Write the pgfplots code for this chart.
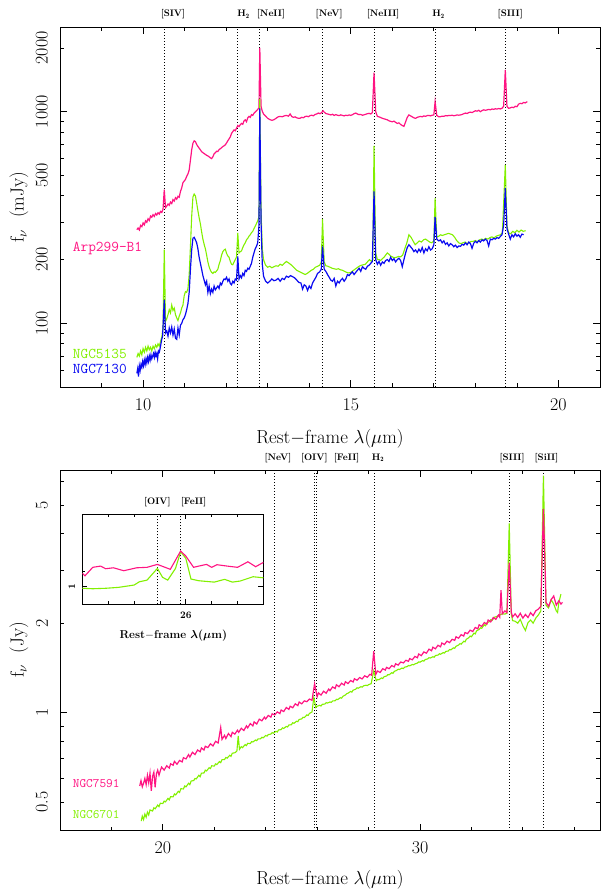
\documentclass[border=0pt]{standalone}
\usepackage{fix-cm}
\usepackage{amsmath}
\usepackage{fontspec}
\usepackage{pgfplots}
\pgfplotsset{compat=1.18}
\definecolor{cpink}{RGB}{255,20,130}
\definecolor{cgreen}{RGB}{130,240,0}
\definecolor{cblue}{RGB}{10,10,240}
\newcommand\tickfont{\fontsize{18}{20}\selectfont}
\newcommand\labfont{\fontsize{19}{22}\selectfont}
\newcommand\linefont{\fontsize{9.5}{11}\selectfont\bfseries}
\tikzset{
  vline/.style={black, line width=0.8bp, dash pattern=on 1bp off 2bp},
  lbl/.style={anchor=base, yshift=10bp, font=\linefont},
}
\pgfplotsset{
  mainax/.style={
    scale only axis, clip mode=individual,
    axis line style={line width=0.9bp},
    every tick/.style={black, line width=0.8bp},
    major tick length=7bp, minor tick length=4bp,
    tick align=inside, tick pos=both,
    xticklabel style={font=\tickfont, inner xsep=0pt, inner ysep=11bp},
    yticklabel style={font=\tickfont, rotate=90, anchor=south, inner xsep=0pt, inner ysep=12bp},
    extra y tick style={major tick length=4bp},
  },
}
\begin{document}
\begin{tikzpicture}
\path[use as bounding box] (0,0) rectangle (601bp,-894bp);
% ================= TOP PANEL =================
\begin{axis}[mainax, at={(60bp,-27bp)}, anchor=north west, width=540bp, height=360bp,
  xmin=8, xmax=21, ymode=log, ymin=50, ymax=2512,
  xtick={10,15,20}, xticklabels={10,15,20},
  minor xtick={9,11,12,13,14,16,17,18,19},
  ytick={100,1000}, yticklabels={100,1000},
  minor ytick={60,70,80,90,300,400,600,700,800,900},
  extra y ticks={200,500,2000}, extra y tick labels={200,500,2000}]
\addplot[vline] coordinates {(10.51,50) (10.51,2512)};
\addplot[vline] coordinates {(12.28,50) (12.28,2512)};
\addplot[vline] coordinates {(12.81,50) (12.81,2512)};
\addplot[vline] coordinates {(14.32,50) (14.32,2512)};
\addplot[vline] coordinates {(15.56,50) (15.56,2512)};
\addplot[vline] coordinates {(17.03,50) (17.03,2512)};
\addplot[vline] coordinates {(18.72,50) (18.72,2512)};
% Arp299-B1
\addplot[cpink, line width=1.2bp] coordinates {
(9.85,277) (9.88,282) (9.91,276) (9.94,290) (9.97,286) (10.00,298) (10.03,292) (10.06,305) (10.09,300) (10.12,312)
(10.15,306) (10.18,321) (10.21,317) (10.24,326) (10.27,320) (10.30,330) (10.33,325) (10.36,333) (10.39,328) (10.42,338)
(10.45,334) (10.48,345) (10.51,428) (10.54,352) (10.57,358) (10.60,366) (10.63,361) (10.66,374) (10.69,368) (10.72,384)
(10.75,378) (10.78,392) (10.81,386) (10.84,398) (10.87,394) (10.90,420) (10.93,436) (10.96,462) (10.99,470) (11.02,478)
(11.05,495) (11.08,508) (11.11,530) (11.14,590) (11.17,660) (11.20,709) (11.23,728) (11.26,722) (11.29,700) (11.32,685)
(11.35,672) (11.38,660) (11.41,647) (11.44,640) (11.47,634) (11.50,628) (11.53,622) (11.56,618) (11.59,612) (11.62,605)
(11.65,600) (11.68,612) (11.71,632) (11.74,640) (11.77,650) (11.80,648) (11.83,662) (11.86,668) (11.89,676) (11.92,684)
(11.95,690) (11.98,697) (12.01,712) (12.04,728) (12.07,744) (12.10,760) (12.13,790) (12.16,805) (12.19,820) (12.22,812)
(12.25,836) (12.28,860) (12.31,850) (12.34,868) (12.37,880) (12.40,872) (12.43,905) (12.46,915) (12.49,896) (12.52,935)
(12.55,950) (12.58,940) (12.61,968) (12.64,960) (12.67,983) (12.70,995) (12.73,1010) (12.76,1025) (12.79,1040) (12.81,2000)
(12.84,1060) (12.87,1005) (12.90,975) (12.95,952) (13.00,930) (13.05,918) (13.10,910) (13.15,916) (13.20,930) (13.25,945)
(13.30,950) (13.35,946) (13.40,955) (13.45,960) (13.50,952) (13.54,975) (13.58,948) (13.62,940) (13.66,945) (13.70,935)
(13.74,930) (13.78,931) (13.82,940) (13.86,936) (13.90,948) (13.94,952) (13.98,946) (14.02,958) (14.06,962) (14.10,956)
(14.14,970) (14.18,975) (14.22,985) (14.26,978) (14.30,990) (14.33,1010) (14.36,995) (14.40,980) (14.44,975) (14.48,970)
(14.52,965) (14.56,972) (14.60,960) (14.64,968) (14.68,962) (14.72,958) (14.76,966) (14.80,960) (14.84,955) (14.88,962)
(14.92,958) (14.96,965) (15.00,960) (15.04,968) (15.08,978) (15.12,985) (15.16,975) (15.20,968) (15.24,970) (15.28,962)
(15.32,966) (15.36,972) (15.40,978) (15.44,982) (15.48,975) (15.52,990) (15.56,1527) (15.60,1000) (15.64,950) (15.68,945)
(15.72,938) (15.76,930) (15.80,925) (15.84,920) (15.88,915) (15.92,905) (15.96,900) (16.00,895) (16.04,902) (16.08,890)
(16.12,880) (16.16,885) (16.20,870) (16.24,860) (16.28,852) (16.32,895) (16.36,940) (16.40,965) (16.44,955) (16.48,945)
(16.52,935) (16.56,930) (16.60,940) (16.64,945) (16.68,950) (16.72,945) (16.76,955) (16.80,950) (16.84,958) (16.88,960)
(16.92,955) (16.96,962) (17.00,965) (17.03,1115) (17.07,960) (17.12,945) (17.16,947) (17.20,952) (17.24,950) (17.28,958)
(17.32,955) (17.36,960) (17.40,958) (17.44,962) (17.48,956) (17.52,960) (17.56,965) (17.60,962) (17.64,965) (17.68,970)
(17.72,978) (17.76,985) (17.80,980) (17.84,990) (17.88,995) (17.92,990) (17.96,1000) (18.00,1010) (18.04,1005) (18.08,1015)
(18.12,1000) (18.16,1012) (18.20,1020) (18.24,1015) (18.28,1019) (18.32,1025) (18.36,1020) (18.40,1030) (18.44,1025) (18.48,1032)
(18.52,1028) (18.56,1035) (18.60,1030) (18.64,1037) (18.68,1060) (18.72,1574) (18.76,1060) (18.80,1037) (18.84,1042) (18.88,1050)
(18.92,1045) (18.96,1060) (19.00,1055) (19.04,1085) (19.08,1095) (19.12,1090) (19.16,1105) (19.20,1100) (19.25,1115)};
% NGC5135
\addplot[cgreen, line width=1.1bp] coordinates {
(9.85,69) (9.88,72) (9.91,70) (9.94,74) (9.97,71) (10.00,76) (10.03,73) (10.06,77) (10.09,74) (10.12,78)
(10.15,75) (10.18,77) (10.21,74) (10.24,78) (10.27,76) (10.30,79) (10.33,77) (10.36,80) (10.39,78) (10.42,82)
(10.45,86) (10.48,95) (10.51,223) (10.54,102) (10.57,105) (10.60,110) (10.63,116) (10.66,112) (10.69,122) (10.72,115)
(10.75,118) (10.78,110) (10.81,106) (10.84,103) (10.87,108) (10.90,112) (10.93,118) (10.96,122) (10.99,135) (11.02,141)
(11.05,140) (11.08,146) (11.11,170) (11.14,230) (11.17,320) (11.20,395) (11.23,408) (11.26,400) (11.29,370) (11.32,340)
(11.35,315) (11.38,295) (11.41,270) (11.44,250) (11.47,236) (11.50,225) (11.53,210) (11.56,195) (11.59,185) (11.62,178)
(11.65,174) (11.68,172) (11.71,175) (11.74,174) (11.77,177) (11.80,180) (11.83,190) (11.86,198) (11.89,210) (11.92,218)
(11.95,222) (11.98,224) (12.01,214) (12.04,208) (12.07,205) (12.10,196) (12.13,190) (12.16,189) (12.19,195) (12.22,200)
(12.25,206) (12.28,267) (12.31,215) (12.34,218) (12.37,220) (12.40,228) (12.43,235) (12.46,240) (12.49,248) (12.52,252)
(12.55,258) (12.58,262) (12.61,268) (12.64,272) (12.67,280) (12.70,288) (12.73,296) (12.76,305) (12.79,320) (12.81,1150)
(12.84,340) (12.87,225) (12.90,200) (12.95,188) (13.00,184) (13.05,186) (13.10,183) (13.15,185) (13.20,187) (13.25,186)
(13.30,190) (13.35,188) (13.40,192) (13.45,196) (13.50,193) (13.55,190) (13.60,186) (13.65,182) (13.70,178) (13.75,176)
(13.80,174) (13.85,172) (13.90,170) (13.95,172) (14.00,175) (14.05,178) (14.10,180) (14.15,184) (14.20,186) (14.25,188)
(14.29,195) (14.32,311) (14.36,195) (14.40,187) (14.45,186) (14.50,184) (14.55,182) (14.60,181) (14.65,180) (14.70,181)
(14.75,179) (14.80,178) (14.85,176) (14.90,174) (14.95,173) (15.00,174) (15.05,177) (15.10,180) (15.15,183) (15.20,186)
(15.25,188) (15.30,189) (15.35,190) (15.40,195) (15.45,200) (15.50,196) (15.53,200) (15.56,689) (15.60,215) (15.64,200)
(15.68,200) (15.72,198) (15.76,202) (15.80,205) (15.84,210) (15.88,215) (15.92,212) (15.96,208) (16.00,206) (16.05,204)
(16.10,205) (16.15,207) (16.20,206) (16.25,210) (16.30,225) (16.35,240) (16.40,262) (16.45,255) (16.50,245) (16.55,235)
(16.60,240) (16.65,245) (16.70,242) (16.75,248) (16.80,250) (16.85,246) (16.90,242) (16.95,240) (17.00,245) (17.03,390)
(17.07,255) (17.12,258) (17.16,262) (17.20,260) (17.25,262) (17.30,264) (17.35,266) (17.40,264) (17.45,262) (17.50,255)
(17.55,246) (17.60,240) (17.65,238) (17.70,240) (17.75,242) (17.80,238) (17.85,240) (17.90,244) (17.95,244) (18.00,246)
(18.05,243) (18.10,248) (18.15,250) (18.20,248) (18.25,252) (18.30,250) (18.35,254) (18.40,256) (18.45,253) (18.50,258)
(18.55,260) (18.60,262) (18.65,268) (18.72,561) (18.76,290) (18.80,267) (18.85,265) (18.90,272) (18.95,268) (19.00,275)
(19.05,270) (19.10,276) (19.15,272) (19.21,274)};
% NGC7130
\addplot[cblue, line width=1.2bp] coordinates {
(9.85,58) (9.87,61) (9.89,56) (9.91,63) (9.93,60) (9.95,64) (9.97,62) (9.99,66) (10.01,63) (10.03,67)
(10.05,64) (10.07,68) (10.09,65) (10.11,69) (10.13,66) (10.15,70) (10.17,67) (10.19,71) (10.21,68) (10.23,70)
(10.25,72) (10.27,69) (10.29,73) (10.31,70) (10.33,72) (10.35,68) (10.37,74) (10.39,73) (10.41,76) (10.43,80)
(10.45,84) (10.47,87) (10.51,129) (10.54,90) (10.57,92) (10.60,87) (10.63,95) (10.66,90) (10.69,96) (10.72,88)
(10.75,94) (10.78,85) (10.81,84) (10.84,95) (10.87,88) (10.90,98) (10.93,100) (10.96,104) (10.99,106) (11.02,110)
(11.05,116) (11.08,124) (11.11,140) (11.14,180) (11.17,222) (11.20,252) (11.23,255) (11.26,248) (11.29,240) (11.32,225)
(11.35,205) (11.38,192) (11.41,180) (11.44,168) (11.47,160) (11.50,152) (11.53,158) (11.56,140) (11.59,150) (11.62,138)
(11.65,145) (11.68,140) (11.71,150) (11.74,144) (11.77,147) (11.80,150) (11.83,146) (11.86,155) (11.89,152) (11.92,158)
(11.95,162) (11.98,161) (12.01,165) (12.04,158) (12.07,162) (12.10,154) (12.13,152) (12.16,158) (12.19,155) (12.22,162)
(12.25,160) (12.28,207) (12.31,162) (12.34,168) (12.37,164) (12.40,172) (12.43,168) (12.46,178) (12.49,176) (12.52,182)
(12.55,180) (12.58,186) (12.61,192) (12.64,205) (12.67,215) (12.70,225) (12.73,231) (12.76,240) (12.79,290) (12.81,1037)
(12.84,300) (12.87,190) (12.90,167) (12.95,158) (13.00,155) (13.05,158) (13.10,162) (13.15,159) (13.20,160) (13.25,163)
(13.30,158) (13.35,163) (13.40,161) (13.45,167) (13.50,165) (13.55,168) (13.60,166) (13.65,164) (13.70,160) (13.75,156)
(13.80,155) (13.84,145) (13.88,152) (13.92,150) (13.96,143) (14.00,150) (14.04,146) (14.08,155) (14.12,160) (14.16,165)
(14.20,172) (14.25,175) (14.29,180) (14.32,231) (14.36,180) (14.40,176) (14.44,170) (14.48,165) (14.52,160) (14.56,158)
(14.60,163) (14.64,150) (14.68,158) (14.72,155) (14.76,160) (14.80,163) (14.84,158) (14.88,162) (14.92,170) (14.96,168)
(15.00,172) (15.04,175) (15.08,170) (15.12,174) (15.16,178) (15.20,182) (15.24,176) (15.28,185) (15.32,182) (15.36,180)
(15.40,186) (15.44,188) (15.48,192) (15.52,196) (15.56,420) (15.60,200) (15.64,190) (15.68,196) (15.72,188) (15.76,195)
(15.80,192) (15.84,198) (15.88,200) (15.92,196) (15.96,205) (16.00,198) (16.04,202) (16.08,195) (16.12,200) (16.16,203)
(16.20,198) (16.24,185) (16.28,200) (16.32,215) (16.36,228) (16.40,235) (16.44,230) (16.48,225) (16.52,218) (16.56,222)
(16.60,216) (16.64,224) (16.68,218) (16.72,228) (16.76,215) (16.80,225) (16.84,220) (16.88,230) (16.92,222) (16.96,225)
(17.00,235) (17.03,318) (17.07,250) (17.12,245) (17.16,248) (17.20,240) (17.24,245) (17.28,236) (17.32,240) (17.36,232)
(17.40,238) (17.44,235) (17.48,230) (17.52,234) (17.56,228) (17.60,232) (17.64,231) (17.68,236) (17.72,234) (17.76,240)
(17.80,235) (17.84,242) (17.88,238) (17.92,226) (17.96,239) (18.00,244) (18.04,240) (18.08,246) (18.12,242) (18.16,248)
(18.20,245) (18.24,250) (18.28,246) (18.32,232) (18.36,250) (18.40,248) (18.44,252) (18.48,250) (18.52,254) (18.56,252)
(18.60,257) (18.64,262) (18.68,290) (18.72,435) (18.76,280) (18.80,264) (18.84,250) (18.88,262) (18.92,256) (18.96,265)
(19.00,258) (19.04,262) (19.08,255) (19.12,264) (19.16,262)};
\node[lbl] at (axis cs:10.72,2512) {[SIV]};
\node[lbl] at (axis cs:12.42,2512) {H$_\mathbf{2}$};
\node[lbl] at (axis cs:13.08,2512) {[NeII]};
\node[lbl] at (axis cs:14.48,2512) {[NeV]};
\node[lbl] at (axis cs:15.78,2512) {[NeIII]};
\node[lbl] at (axis cs:17.11,2512) {H$_\mathbf{2}$};
\node[lbl] at (axis cs:18.84,2512) {[SIII]};
\end{axis}
% ================= BOTTOM PANEL =================
\begin{axis}[mainax, at={(60bp,-470bp)}, anchor=north west, width=540bp, height=360.7bp,
  xmin=16, xmax=37, ymode=log, ymin=0.4, ymax=6.56,
  xtick={20,30}, xticklabels={20,30},
  minor xtick={18,22,24,26,28,32,34,36},
  ytick={1}, yticklabels={1},
  minor ytick={0.6,0.7,0.8,0.9,3,4,6},
  extra y ticks={0.5,2,5}, extra y tick labels={0.5,2,5}]
\addplot[vline] coordinates {(24.32,0.4) (24.32,6.56)};
\addplot[vline] coordinates {(25.89,0.4) (25.89,6.56)};
\addplot[vline] coordinates {(25.99,0.4) (25.99,6.56)};
\addplot[vline] coordinates {(28.22,0.4) (28.22,6.56)};
\addplot[vline] coordinates {(33.47,0.4) (33.47,6.56)};
\addplot[vline] coordinates {(34.80,0.4) (34.80,6.56)};
% NGC6701
\addplot[cgreen, line width=1.1bp] coordinates {
(19.16,0.431) (19.20,0.448) (19.25,0.436) (19.30,0.455) (19.35,0.444) (19.40,0.462) (19.45,0.452) (19.50,0.470) (19.60,0.466) (19.65,0.478)
(19.70,0.474) (19.80,0.488) (19.85,0.482) (19.90,0.495) (20.00,0.494) (20.05,0.503) (20.10,0.500) (20.20,0.514) (20.25,0.508) (20.30,0.521)
(20.40,0.520) (20.45,0.532) (20.50,0.528) (20.60,0.543) (20.65,0.538) (20.70,0.554) (20.80,0.553) (20.85,0.566) (20.90,0.562) (21.00,0.578)
(21.05,0.572) (21.10,0.588) (21.20,0.590) (21.25,0.600) (21.30,0.598) (21.40,0.615) (21.45,0.608) (21.50,0.625) (21.60,0.626) (21.65,0.640)
(21.70,0.636) (21.80,0.652) (21.85,0.648) (21.90,0.662) (22.00,0.660) (22.05,0.672) (22.10,0.668) (22.20,0.684) (22.25,0.678) (22.30,0.694)
(22.40,0.695) (22.45,0.706) (22.50,0.702) (22.60,0.718) (22.65,0.712) (22.70,0.730) (22.80,0.732) (22.88,0.742) (22.93,0.835) (22.98,0.752)
(23.05,0.768) (23.10,0.762) (23.20,0.780) (23.25,0.774) (23.30,0.788) (23.40,0.786) (23.45,0.798) (23.50,0.796) (23.60,0.808) (23.65,0.804)
(23.70,0.815) (23.80,0.816) (23.85,0.826) (23.90,0.822) (24.00,0.837) (24.05,0.833) (24.10,0.843) (24.20,0.846) (24.25,0.856) (24.30,0.852)
(24.40,0.865) (24.45,0.860) (24.50,0.874) (24.60,0.876) (24.65,0.888) (24.70,0.884) (24.80,0.898) (24.85,0.894) (24.90,0.908) (25.00,0.910)
(25.05,0.924) (25.10,0.920) (25.20,0.935) (25.25,0.932) (25.30,0.948) (25.40,0.952) (25.45,0.964) (25.50,0.962) (25.60,0.982) (25.65,0.978)
(25.70,0.993) (25.80,1.005) (25.87,1.123) (25.95,1.040) (26.00,1.050) (26.10,1.058) (26.15,1.052) (26.20,1.066) (26.30,1.068) (26.35,1.080)
(26.40,1.076) (26.50,1.086) (26.55,1.082) (26.60,1.094) (26.70,1.096) (26.75,1.108) (26.80,1.106) (26.90,1.122) (26.95,1.118) (27.00,1.134)
(27.10,1.146) (27.15,1.158) (27.20,1.162) (27.30,1.178) (27.35,1.172) (27.40,1.190) (27.50,1.198) (27.55,1.212) (27.60,1.208) (27.70,1.222)
(27.75,1.218) (27.80,1.230) (27.90,1.236) (27.95,1.232) (28.00,1.242) (28.10,1.250) (28.20,1.380) (28.30,1.280) (28.35,1.292) (28.40,1.290)
(28.50,1.308) (28.55,1.302) (28.60,1.320) (28.70,1.328) (28.75,1.342) (28.80,1.340) (28.90,1.362) (28.95,1.356) (29.00,1.376) (29.10,1.388)
(29.15,1.400) (29.20,1.396) (29.30,1.412) (29.35,1.406) (29.40,1.422) (29.50,1.428) (29.55,1.440) (29.60,1.436) (29.70,1.452) (29.75,1.448)
(29.80,1.458) (29.90,1.468) (29.95,1.482) (30.00,1.478) (30.10,1.496) (30.15,1.490) (30.20,1.508) (30.30,1.516) (30.35,1.530) (30.40,1.526)
(30.50,1.542) (30.55,1.536) (30.60,1.556) (30.70,1.562) (30.75,1.578) (30.80,1.572) (30.90,1.592) (30.95,1.586) (31.00,1.606) (31.10,1.612)
(31.15,1.630) (31.20,1.626) (31.30,1.652) (31.35,1.646) (31.40,1.672) (31.50,1.688) (31.55,1.706) (31.60,1.700) (31.70,1.738) (31.75,1.730)
(31.80,1.765) (31.90,1.788) (31.95,1.810) (32.00,1.800) (32.10,1.852) (32.15,1.840) (32.20,1.885) (32.30,1.905) (32.35,1.930) (32.40,1.922)
(32.50,1.975) (32.55,1.960) (32.60,2.005) (32.70,2.025) (32.75,2.055) (32.80,2.040) (32.90,2.095) (33.00,2.110) (33.10,2.130) (33.20,2.150)
(33.30,2.146) (33.38,2.160) (33.47,4.340) (33.55,2.150) (33.60,2.040) (33.70,2.030) (33.80,2.000) (33.90,2.060) (34.00,1.960) (34.10,1.890)
(34.20,2.010) (34.30,2.050) (34.40,2.000) (34.50,2.080) (34.60,2.130) (34.70,2.200) (34.80,6.280) (34.90,2.300) (35.00,2.250) (35.10,2.400)
(35.20,2.320) (35.30,2.200) (35.35,2.173) (35.40,2.350) (35.48,2.506)};
% NGC7591
\addplot[cpink, line width=1.2bp] coordinates {
(19.10,0.566) (19.15,0.590) (19.20,0.562) (19.25,0.578) (19.30,0.600) (19.35,0.572) (19.40,0.615) (19.45,0.580) (19.50,0.625) (19.55,0.545)
(19.60,0.610) (19.65,0.630) (19.70,0.560) (19.75,0.622) (19.80,0.640) (19.85,0.615) (19.90,0.636) (19.95,0.655) (20.05,0.640) (20.15,0.662)
(20.25,0.650) (20.30,0.672) (20.40,0.665) (20.45,0.685) (20.55,0.670) (20.65,0.690) (20.75,0.682) (20.80,0.705) (20.90,0.698) (21.00,0.722)
(21.05,0.708) (21.15,0.735) (21.25,0.722) (21.35,0.748) (21.45,0.738) (21.50,0.760) (21.60,0.748) (21.65,0.770) (21.75,0.762) (21.85,0.785)
(21.95,0.772) (22.05,0.800) (22.15,0.790) (22.25,0.890) (22.30,0.812) (22.40,0.838) (22.45,0.818) (22.55,0.850) (22.65,0.830) (22.70,0.858)
(22.80,0.846) (22.90,0.872) (22.95,0.858) (23.05,0.885) (23.15,0.870) (23.25,0.902) (23.30,0.888) (23.40,0.918) (23.50,0.902) (23.55,0.930)
(23.65,0.915) (23.75,0.950) (23.85,0.938) (23.95,0.965) (24.00,0.952) (24.10,0.978) (24.20,0.965) (24.25,0.990) (24.35,0.982) (24.45,1.005)
(24.55,0.992) (24.60,1.020) (24.70,1.008) (24.80,1.040) (24.90,1.025) (24.95,1.050) (25.05,1.038) (25.15,1.070) (25.25,1.055) (25.30,1.085)
(25.40,1.070) (25.50,1.095) (25.60,1.088) (25.70,1.110) (25.80,1.100) (25.90,1.250) (26.00,1.130) (26.05,1.165) (26.15,1.145) (26.25,1.180)
(26.35,1.162) (26.45,1.200) (26.50,1.185) (26.60,1.220) (26.70,1.205) (26.75,1.240) (26.85,1.222) (26.95,1.255) (27.05,1.238) (27.10,1.270)
(27.20,1.252) (27.30,1.282) (27.40,1.268) (27.45,1.300) (27.55,1.285) (27.65,1.312) (27.75,1.298) (27.85,1.330) (27.95,1.315) (28.05,1.345)
(28.12,1.335) (28.20,1.610) (28.28,1.345) (28.35,1.380) (28.45,1.365) (28.55,1.405) (28.65,1.390) (28.70,1.420) (28.80,1.405) (28.90,1.440)
(29.00,1.425) (29.05,1.460) (29.15,1.445) (29.25,1.480) (29.35,1.470) (29.45,1.500) (29.55,1.488) (29.60,1.520) (29.70,1.505) (29.80,1.545)
(29.90,1.530) (29.95,1.575) (30.05,1.555) (30.15,1.600) (30.25,1.585) (30.35,1.635) (30.45,1.615) (30.50,1.660) (30.60,1.640) (30.70,1.685)
(30.80,1.665) (30.85,1.715) (30.95,1.695) (31.05,1.740) (31.15,1.720) (31.25,1.765) (31.35,1.750) (31.40,1.800) (31.50,1.780) (31.60,1.830)
(31.70,1.810) (31.75,1.860) (31.85,1.845) (31.95,1.895) (32.05,1.875) (32.15,1.935) (32.25,1.915) (32.30,1.975) (32.40,1.950) (32.50,2.010)
(32.60,1.985) (32.65,2.050) (32.75,2.020) (32.85,2.090) (32.95,2.060) (33.05,2.130) (33.10,2.095) (33.15,2.585) (33.20,2.150) (33.30,2.200)
(33.38,2.170) (33.47,3.200) (33.55,2.180) (33.60,2.100) (33.70,2.150) (33.80,2.090) (33.90,2.160) (34.00,2.080) (34.10,2.140) (34.20,2.090)
(34.30,2.170) (34.40,2.120) (34.50,2.200) (34.60,2.230) (34.70,2.280) (34.80,4.850) (34.90,2.350) (35.00,2.280) (35.10,2.400) (35.20,2.470)
(35.30,2.300) (35.40,2.380) (35.48,2.320) (35.54,2.350)};
\node[lbl] at (axis cs:24.48,6.56) {[NeV]};
\node[lbl] at (axis cs:25.89,6.56) {[OIV]};
\node[lbl] at (axis cs:27.15,6.56) {[FeII]};
\node[lbl] at (axis cs:28.37,6.56) {H$_\mathbf{2}$};
\node[lbl] at (axis cs:33.58,6.56) {[SIII]};
\node[lbl] at (axis cs:34.92,6.56) {[SiII]};
\end{axis}
% ================= INSET =================
\begin{axis}[scale only axis, clip mode=individual, at={(82.4bp,-514bp)}, anchor=north west,
  width=181bp, height=90.3bp,
  axis background/.style={fill=white},
  axis line style={line width=0.9bp},
  every tick/.style={black, line width=0.8bp},
  major tick length=5bp, minor tick length=3bp, tick align=inside, tick pos=both,
  xmin=25.6, xmax=26.3, ymin=0.886, ymax=1.472,
  xtick={26}, xticklabels={\textbf{26}}, minor xtick={25.7,25.8,25.9,26.1,26.2},
  ytick={1}, yticklabels={\textbf{1}}, minor ytick={1.1},
  xticklabel style={font=\fontsize{10}{12}\selectfont, inner xsep=0pt, inner ysep=7bp},
  yticklabel style={font=\fontsize{10}{12}\selectfont, rotate=90, anchor=south, inner xsep=0pt, inner ysep=7bp}]
\addplot[vline] coordinates {(25.89,0.886) (25.89,1.472)};
\addplot[vline] coordinates {(25.98,0.886) (25.98,1.472)};
\addplot[cgreen, line width=1.1bp] coordinates {
(25.60,0.990) (25.64,0.987) (25.69,0.990) (25.74,0.996) (25.80,1.011) (25.82,1.032) (25.85,1.043) (25.89,1.119)
(25.91,1.061) (25.93,1.043) (25.96,1.119) (25.98,1.227) (26.00,1.184) (26.02,1.050) (26.05,1.039) (26.11,1.030)
(26.15,1.048) (26.18,1.030) (26.21,1.037) (26.26,1.065) (26.30,1.058)};
\addplot[cpink, line width=1.1bp] coordinates {
(25.60,1.087) (25.61,1.071) (25.64,1.126) (25.67,1.134) (25.69,1.117) (25.72,1.123) (25.76,1.104) (25.81,1.123)
(25.85,1.126) (25.89,1.145) (25.94,1.113) (25.98,1.232) (26.00,1.199) (26.03,1.126) (26.05,1.134) (26.08,1.145)
(26.10,1.126) (26.12,1.143) (26.16,1.134) (26.20,1.126) (26.24,1.162) (26.27,1.130) (26.30,1.158)};
\node[anchor=base, yshift=9.5bp, font=\linefont] at (axis cs:25.89,1.472) {[OIV]};
\node[anchor=base, yshift=9.5bp, font=\linefont] at (axis cs:26.03,1.472) {[FeII]};
\end{axis}
% ================= LABELS =================
\node[rotate=90, font=\labfont] at (19bp,-207bp) {f$_\nu$~~(mJy)};
\node[anchor=base, font=\labfont] at (330bp,-443bp) {Rest$-$frame $\lambda$($\mu$m)};
\node[rotate=90, font=\labfont] at (19bp,-650bp) {f$_\nu$~~(Jy)};
\node[anchor=base, font=\labfont] at (330bp,-884bp) {Rest$-$frame $\lambda$($\mu$m)};
\node[anchor=base, font=\fontsize{11.5}{13}\selectfont\bfseries] at (173.3bp,-638.5bp) {Rest$-$frame $\boldsymbol{\lambda}$($\boldsymbol{\mu}$m)};
\node[anchor=base west, inner sep=0pt, text=cpink, font=\ttfamily\fontsize{15}{17}\selectfont] at (72.7bp,-251.6bp) {Arp299-B1};
\node[anchor=base west, inner sep=0pt, text=cgreen, font=\ttfamily\fontsize{15}{17}\selectfont] at (72.7bp,-358.9bp) {NGC5135};
\node[anchor=base west, inner sep=0pt, text=cblue, font=\ttfamily\fontsize{15}{17}\selectfont] at (72.7bp,-373.9bp) {NGC7130};
\node[anchor=base west, inner sep=0pt, text=cpink, font=\ttfamily\fontsize{13}{15}\selectfont] at (72.7bp,-787.3bp) {NGC7591};
\node[anchor=base west, inner sep=0pt, text=cgreen, font=\ttfamily\fontsize{13}{15}\selectfont] at (72.7bp,-818bp) {NGC6701};
\end{tikzpicture}
\end{document}
